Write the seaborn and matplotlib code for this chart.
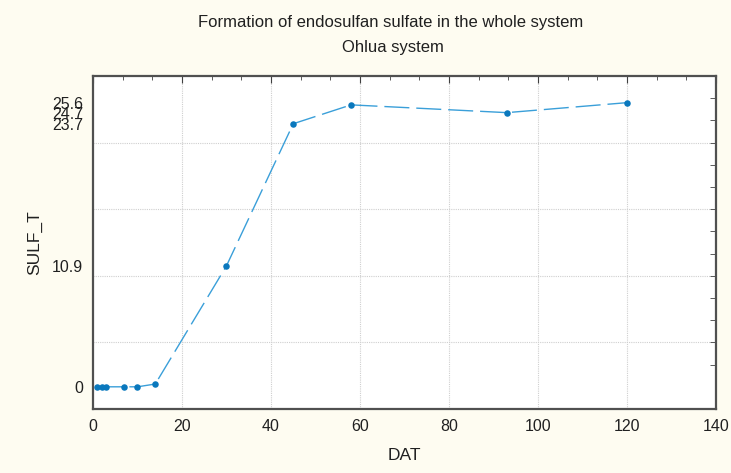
import matplotlib
matplotlib.use("Agg")
import matplotlib.pyplot as plt
from matplotlib.ticker import MultipleLocator
import seaborn as sns
import pandas as pd

# data
dat = [1, 2, 3, 7, 10, 14, 30, 45, 58, 93, 120]
sulf_t = [0, 0, 0, 0, 0, 0.25, 10.9, 23.7, 25.4, 24.7, 25.6]

ytick_vals = [0, 10.9, 23.7, 24.7, 25.6]
ytick_labels = ["0", "10.9", "23.7", "24.7", "25.6"]
xtick_vals = [0, 20, 40, 60, 80, 100, 120, 140]
ygrid = [4, 10, 16, 22]

df = pd.DataFrame({"DAT": dat, "SULF_T": sulf_t})

sns.set_style("white")
plt.rcParams['font.family'] = ['Liberation Sans', 'DejaVu Sans']

bg = "#fefcf1"
fig = plt.figure(figsize=(7.31, 4.73), dpi=100, facecolor=bg)
ax = fig.add_axes([0.1272, 0.1353, 0.8523, 0.704])
ax.set_facecolor("white")

sns.lineplot(data=df, x="DAT", y="SULF_T", ax=ax, color="#3a9fd9",
             linewidth=1.0, linestyle=(0, (18, 5)), sort=False)
sns.scatterplot(data=df, x="DAT", y="SULF_T", ax=ax, color="#0a78bd",
                s=22, edgecolor="#0a78bd", linewidth=0, zorder=3)

ax.set_xlim(0, 140)
ax.set_ylim(-2, 28)

# grid
for x in xtick_vals[1:-1]:
    ax.axvline(x, color="#cfcfcf", linestyle=(0, (1, 1)), linewidth=0.8, zorder=0)
for y in ygrid:
    ax.axhline(y, color="#cfcfcf", linestyle=(0, (1, 1)), linewidth=0.8, zorder=0)

ax.set_xticks(xtick_vals)
ax.xaxis.set_minor_locator(MultipleLocator(20 / 3))
ax.set_yticks(ytick_vals)
ax.set_yticklabels(ytick_labels)
ax.yaxis.set_minor_locator(MultipleLocator(2))

ax.tick_params(axis="both", which="both", direction="in", top=True, right=True,
               color="#404040", labelsize=11.5, labelcolor="#202020")
ax.tick_params(axis="x", which="major", length=5, pad=7)
ax.tick_params(axis="x", which="minor", length=3)
ax.tick_params(axis="y", which="major", length=0, pad=7)
ax.tick_params(axis="y", which="minor", length=4)

for sp in ax.spines.values():
    sp.set_color("#505050")
    sp.set_linewidth(1.6)
    sp.set_visible(True)

ax.set_xlabel("DAT", fontsize=12.5, color="#202020", labelpad=10)
ax.set_ylabel("SULF_T", fontsize=12.5, color="#202020", labelpad=7)

fig.text(0.534, 0.953, "Formation of endosulfan sulfate in the whole system",
         ha="center", va="center", fontsize=12, color="#202020")
fig.text(0.537, 0.900, "Ohlua system", ha="center", va="center",
         fontsize=12, color="#202020")

fig.savefig("out.png", dpi=100, facecolor=bg)
